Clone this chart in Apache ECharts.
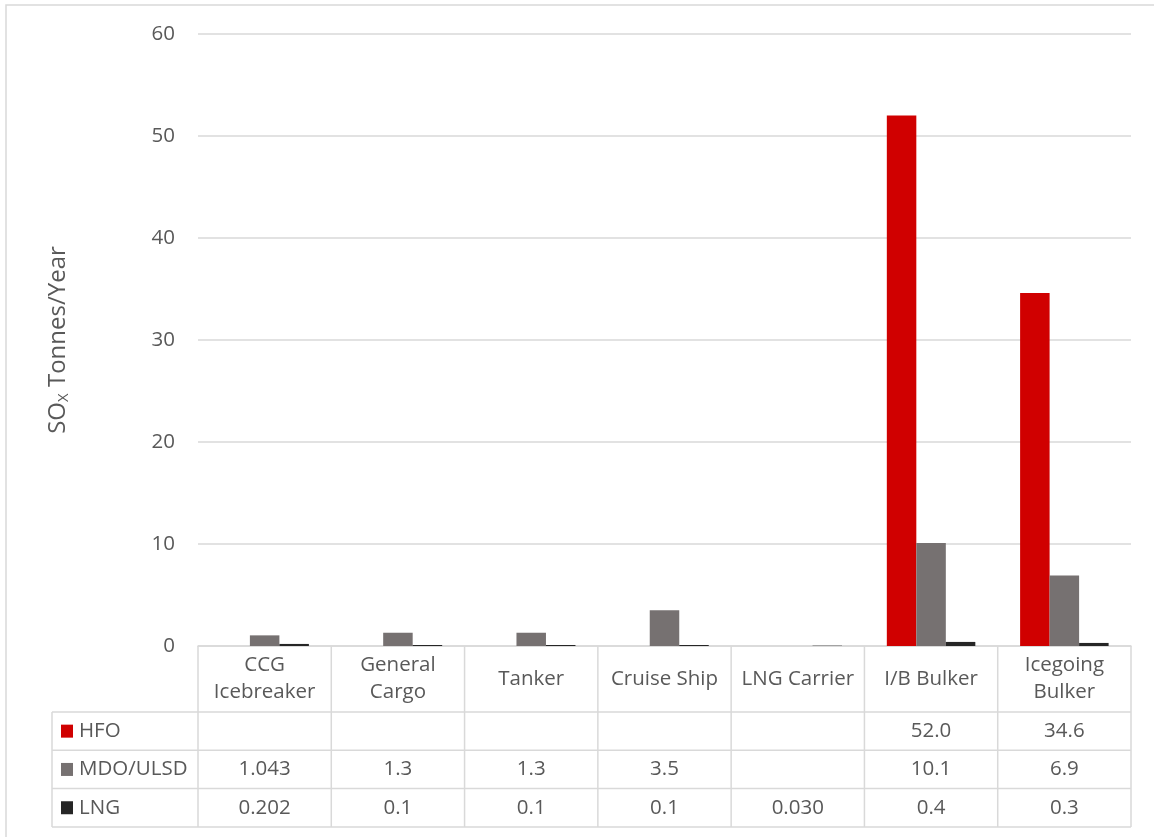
<!DOCTYPE html>
<html>
<head>
<meta charset="utf-8">
<script src="https://cdn.jsdelivr.net/npm/echarts@6/dist/echarts.min.js"></script>
<style>
  html, body { margin: 0; padding: 0; background: #fff; }
  #chart { width: 1154px; height: 837px; }
</style>
</head>
<body>
<div id="chart"></div>
<script>
// Ship categories (line breaks as shown in the header row)
const categories = ['CCG\nIcebreaker', 'General\nCargo', 'Tanker', 'Cruise Ship', 'LNG Carrier', 'I/B Bulker', 'Icegoing\nBulker'];

// SOx emissions, tonnes/year, kept as printed in the data table ('' = no value)
const hfo = ['', '', '', '', '', '52.0', '34.6'];
const mdoUlsd = ['1.043', '1.3', '1.3', '3.5', '', '10.1', '6.9'];
const lng = ['0.202', '0.1', '0.1', '0.1', '0.030', '0.4', '0.3'];

const seriesNames = ['HFO', 'MDO/ULSD', 'LNG'];
const seriesColors = ['#D00000', '#767171', '#262626'];

// Y axis ticks
const yMin = 0, yMax = 60, yStep = 10;

// Layout of the plot and the data table beneath it
const W = 1154, H = 837;
const plotLeft = 198, plotRight = 1131, plotTop = 34, plotBottom = 646;
const headerBottom = 712;
const rowH = 38.3;
const tableLeft = 52;
const font = 'Open Sans';
const fontSize = 20.5;
const textColor = '#595959';
const lineColor = '#D9D9D9';

const toNum = s => (s === '' ? null : parseFloat(s));
const rows = [hfo, mdoUlsd, lng];

const chart = echarts.init(document.getElementById('chart'), null, { renderer: 'canvas' });

// One extra category axis per table row; its labels are the row's printed values
const tableAxes = rows.map((row, i) => ({
  type: 'category',
  gridIndex: 0,
  position: 'bottom',
  data: row,
  offset: headerBottom + rowH * (i + 0.5) - plotBottom,
  axisLine: { show: false },
  axisTick: { show: false },
  splitLine: { show: false },
  axisLabel: {
    interval: 0, margin: 0, verticalAlign: 'middle',
    fontFamily: font, fontSize: fontSize, color: textColor
  }
}));

// Table grid lines and row headers with colour keys
const graphics = [];
const catW = (plotRight - plotLeft) / categories.length;
const tableBottom = headerBottom + rowH * 3;
const line = (x1, y1, x2, y2) => ({
  type: 'line', silent: true,
  shape: { x1, y1, x2, y2 },
  style: { stroke: lineColor, lineWidth: 1.5 }
});
for (let i = 0; i <= categories.length; i++) {
  const x = plotLeft + catW * i;
  graphics.push(line(x, plotBottom, x, tableBottom));
}
graphics.push(line(tableLeft, headerBottom, tableLeft, tableBottom));
for (let r = 0; r <= 3; r++) {
  const y = headerBottom + rowH * r;
  graphics.push(line(tableLeft, y, plotRight, y));
}
seriesNames.forEach((name, i) => {
  const cy = headerBottom + rowH * (i + 0.5);
  graphics.push({
    type: 'rect', silent: true,
    shape: { x: 61, y: cy - 6.5, width: 12, height: 13 },
    style: { fill: seriesColors[i] }
  });
  graphics.push({
    type: 'text', silent: true,
    x: 79, y: cy,
    style: { text: name, fontFamily: font, fontSize: fontSize, fill: textColor, verticalAlign: 'middle', align: 'left' }
  });
});
// Chart area frame
graphics.push({
  type: 'rect', silent: true, z: -1,
  shape: { x: 6, y: 5, width: W + 10, height: H + 10 },
  style: { fill: 'none', stroke: lineColor, lineWidth: 1.5 }
});

chart.setOption({
  backgroundColor: '#fff',
  animation: false,
  textStyle: { fontFamily: font },
  grid: { left: plotLeft, right: W - plotRight, top: plotTop, bottom: H - plotBottom, containLabel: false },
  xAxis: [{
    type: 'category',
    data: categories,
    axisLine: { show: true, lineStyle: { color: lineColor, width: 1.5 } },
    axisTick: { show: false },
    axisLabel: {
      interval: 0, margin: (headerBottom - plotBottom) / 2, verticalAlign: 'middle',
      fontFamily: font, fontSize: fontSize, lineHeight: 27, color: textColor, align: 'center'
    }
  }].concat(tableAxes),
  yAxis: {
    type: 'value',
    min: yMin, max: yMax, interval: yStep,
    axisLine: { show: false },
    axisTick: { show: false },
    splitLine: { lineStyle: { color: lineColor, width: 1.5 } },
    axisLabel: { margin: 23, fontFamily: font, fontSize: fontSize, color: textColor },
    name: 'SO{sub|X} Tonnes/Year',
    nameLocation: 'middle',
    nameGap: 127,
    nameTextStyle: {
      fontFamily: font, fontSize: 24, color: textColor,
      rich: { sub: { fontFamily: font, fontSize: 15, color: textColor, verticalAlign: 'bottom', padding: [10, 0, 0, 0] } }
    }
  },
  series: rows.map((row, i) => ({
    name: seriesNames[i],
    type: 'bar',
    xAxisIndex: 0,
    data: row.map(toNum),
    itemStyle: { color: seriesColors[i] },
    barGap: '0%',
    barCategoryGap: '33.6%'
  })),
  graphic: graphics
});
</script>
</body>
</html>
